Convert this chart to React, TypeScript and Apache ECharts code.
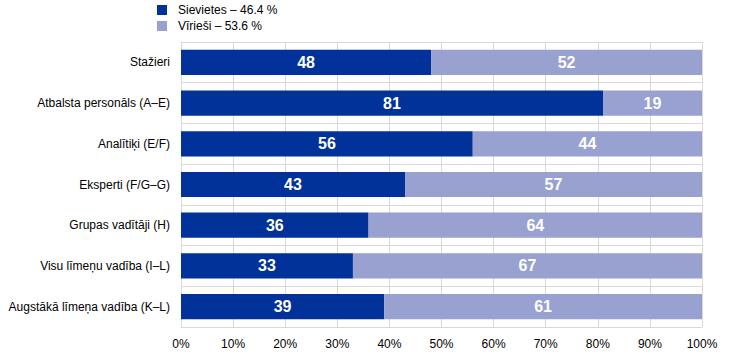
import React, { useEffect, useRef } from "react";
import * as echarts from "echarts";

const categories = [
  "Stažieri",
  "Atbalsta personāls (A–E)",
  "Analītiķi (E/F)",
  "Eksperti (F/G–G)",
  "Grupas vadītāji (H)",
  "Visu līmeņu vadība (I–L)",
  "Augstākā līmeņa vadība (K–L)",
];
const women = [48, 81, 56, 43, 36, 33, 39];
const men = [52, 19, 44, 57, 64, 67, 61];
const seriesNames = ["Sievietes – 46.4 %", "Vīrieši – 53.6 %"];

export default function App() {
  const ref = useRef<HTMLDivElement>(null);
  useEffect(() => {
    if (!ref.current) return;
    const chart = echarts.init(ref.current, null, { renderer: "svg" });
    const font = "'Liberation Sans', Arial, sans-serif";
    const label = {
      show: true,
      position: "inside",
      color: "#ffffff",
      fontWeight: "bold",
      fontSize: 16,
      fontFamily: font,
    };
    chart.setOption({
      animation: false,
      legend: {
        orient: "vertical",
        left: 157,
        top: 4,
        padding: 0,
        itemWidth: 10,
        itemHeight: 10,
        itemGap: 4,
        icon: "rect",
        formatter: (n: string) => "{t|" + n + "}",
        textStyle: {
          fontSize: 12,
          color: "#000",
          fontFamily: font,
          rich: { t: { fontSize: 12, fontFamily: font, color: "#000", padding: [0, 0, 0, 6] } },
        },
        data: seriesNames,
      },
      grid: { left: 181, right: 42, top: 42, bottom: 30 },
      xAxis: {
        type: "value",
        min: 0,
        max: 100,
        interval: 10,
        axisLabel: {
          formatter: "{value}%",
          fontSize: 12,
          color: "#000",
          fontFamily: font,
          margin: 11,
        },
        axisLine: { show: false },
        axisTick: { show: false },
        splitLine: { show: true, lineStyle: { color: "#d9d9d9", width: 1 } },
      },
      yAxis: {
        type: "category",
        inverse: true,
        data: categories,
        axisLabel: { fontSize: 12, color: "#000", fontFamily: font, margin: 11 },
        axisLine: { show: true, lineStyle: { color: "#d9d9d9" } },
        axisTick: { show: false },
        splitLine: { show: true, lineStyle: { color: "#d9d9d9", width: 1 } },
      },
      series: [
        {
          name: seriesNames[0],
          type: "bar",
          stack: "total",
          data: women,
          barWidth: "62%",
          itemStyle: { color: "#003299" },
          label,
        },
        {
          name: seriesNames[1],
          type: "bar",
          stack: "total",
          data: men,
          barWidth: "62%",
          itemStyle: { color: "#98a1d0" },
          label,
        },
      ],
    });
    return () => chart.dispose();
  }, []);
  return (
    <div
      ref={ref}
      style={{ position: "absolute", left: 0, top: 0, width: 744, height: 357 }}
    />
  );
}
